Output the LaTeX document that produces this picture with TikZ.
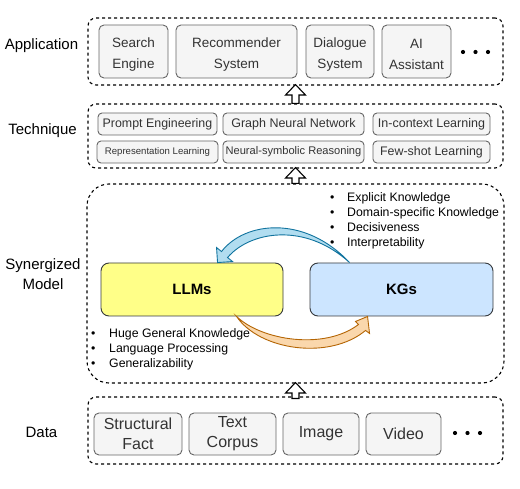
\documentclass[tikz,border=0pt]{standalone}
\usepackage{fontspec}
\setmainfont{Liberation Sans}
\usetikzlibrary{calc}
\definecolor{boxgray}{HTML}{F5F5F5}
\definecolor{boxline}{HTML}{666666}
\definecolor{boxtext}{HTML}{333333}
\definecolor{llmfill}{HTML}{FFFF88}
\definecolor{kgfill}{HTML}{CCE5FF}
\definecolor{mainline}{HTML}{36393D}
\definecolor{bluefill}{HTML}{B1DDF0}
\definecolor{blueline}{HTML}{10739E}
\definecolor{orangefill}{HTML}{FAD7AC}
\definecolor{orangeline}{HTML}{B46504}
\newcommand\myfs[2]{\fontsize{#1}{#2}\selectfont}
\newcommand\topstrut{\rule{0pt}{15.5pt}}
\newcommand\hollowup[2]{%
  \draw[hollow] ($(#1)+(-3.5,0)$) -- ($(#2)+(-3.5,10.5)$) -- ($(#2)+(-10,10.5)$) -- (#2)
    -- ($(#2)+(10,10.5)$) -- ($(#2)+(3.5,10.5)$) -- ($(#1)+(3.5,0)$) -- cycle;}
\begin{document}
\begin{tikzpicture}[x=1pt,y=-1pt,
  outerbox/.style={draw=black, dash pattern=on 3pt off 3pt, line width=1.1pt, rounded corners=8pt, inner sep=0pt},
  inbox/.style={draw=boxline, fill=boxgray, rounded corners=5pt, text=boxtext, align=center, inner sep=0pt, line width=0.9pt},
  tbox/.style={inbox, minimum height=22pt, rounded corners=4pt},
  lbl/.style={font=\myfs{15}{20}, align=center, inner sep=0pt},
  mainbox/.style={draw=mainline, rounded corners=8pt, minimum height=53pt, line width=0.9pt, font=\bfseries\myfs{15}{18}},
  bullets/.style={font=\myfs{12.3}{15}, align=left, inner sep=0pt, anchor=west},
  hollow/.style={draw=black, fill=white, line width=1.1pt, line join=miter},
  dotfill/.style={fill=black}
]
\useasboundingbox (0,0) rectangle (520,489);

% outer containers
\node[outerbox, minimum width=415pt, minimum height=67pt] (app) at (295.5,51.5) {};
\node[outerbox, minimum width=415pt, minimum height=64pt] (tech) at (295.5,136) {};
\node[outerbox, rounded corners=22pt, minimum width=417pt, minimum height=199pt] (syn) at (295.5,283.5) {};
\node[outerbox, minimum width=415pt, minimum height=67pt] (data) at (295.5,430.5) {};

% left labels
\node[lbl] (lapp) at (41.5,46) {Application};
\node[lbl] (ltech) at (42.5,131) {Technique};
\node[lbl] (lsyn) at (43,274) {Synergized\\Model};
\node[lbl] (ldata) at (41.5,432) {Data};

% application
\begin{scope}[every node/.append style={font=\myfs{13.5}{20.5}}]
\node[inbox, minimum width=69pt, minimum height=53pt] (se) at (133.5,51.5) {\topstrut Search\\Engine};
\node[inbox, minimum width=121pt, minimum height=53pt] (rs) at (236.5,51.5) {\topstrut Recommender\\System};
\node[inbox, minimum width=68pt, minimum height=53pt] (ds) at (340,51.5) {\topstrut Dialogue\\System};
\node[inbox, minimum width=69pt, minimum height=53pt] (ai) at (416.5,51.5) {\topstrut AI\\Assistant};
\end{scope}
\fill[dotfill] (463,52) circle[radius=2.1];
\fill[dotfill] (475.5,52) circle[radius=2.1];
\fill[dotfill] (488,52) circle[radius=2.1];

% technique
\node[tbox, minimum width=119pt, font=\myfs{12.4}{14}] (pe) at (157.5,124) {Prompt Engineering};
\node[tbox, minimum width=141pt, font=\myfs{12.5}{14}] (gnn) at (293.5,124) {Graph Neural Network};
\node[tbox, minimum width=117pt, font=\myfs{12.5}{14}] (icl) at (431.5,124) {In-context Learning};
\node[tbox, minimum width=121pt, font=\myfs{9.6}{12}] (rl) at (157.5,152) {Representation Learning};
\node[tbox, minimum width=141pt, font=\myfs{11.1}{13}] (nsr) at (293.5,152) {Neural-symbolic Reasoning};
\node[tbox, minimum width=117pt, font=\myfs{12.4}{14}] (fsl) at (431.5,152) {Few-shot Learning};

% synergized model
\node[mainbox, fill=llmfill, minimum width=182pt] (llm) at (192,289.5) {LLMs};
\node[mainbox, fill=kgfill, minimum width=183pt] (kg) at (401.5,289.5) {KGs};

\node[bullets] (kgp) at (330,220.5) {\makebox[17pt][l]{•}Explicit Knowledge\\\makebox[17pt][l]{•}Domain-specific Knowledge\\\makebox[17pt][l]{•}Decisiveness\\\makebox[17pt][l]{•}Interpretability};
\node[bullets] (llmp) at (91,349.3) {\makebox[18pt][l]{•}Huge General Knowledge\\\makebox[18pt][l]{•}Language Processing\\\makebox[18pt][l]{•}Generalizability};

% KGs -> LLMs (blue curved arrow)
\coordinate (bt) at ($(kg.north west)+(40,0)$);
\coordinate (bh) at ($(llm.north west)+(117,0)$);
\draw[draw=blueline, fill=bluefill, line width=0.9pt, line join=miter]
  (bt) .. controls ($(bt)+(-45,-48)$) and ($(bh)+(27,-41)$) .. ($(bh)+(4,-11)$)
  -- ($(bh)+(-1,-15)$) -- (bh) -- ($(bh)+(15,-1)$) -- ($(bh)+(10,-5)$)
  .. controls ($(bh)+(32,-31)$) and ($(bt)+(-45,-41)$) .. (bt) -- cycle;

% LLMs -> KGs (orange curved arrow)
\coordinate (ot) at ($(llm.south west)+(136,0)$);
\coordinate (oh) at ($(kg.south west)+(58,0)$);
\draw[draw=orangeline, fill=orangefill, line width=0.9pt, line join=miter]
  (ot) .. controls ($(ot)+(23,34)$) and ($(oh)+(-38,44)$) .. ($(oh)+(-2,14)$)
  -- ($(oh)+(2,17)$) -- (oh) -- ($(oh)+(-12,5)$) -- ($(oh)+(-9,8)$)
  .. controls ($(oh)+(-43,34)$) and ($(ot)+(25,24)$) .. (ot) -- cycle;

% data
\begin{scope}[every node/.append style={font=\myfs{16}{20}}]
\node[inbox, minimum width=88pt, minimum height=42pt] (sf) at (138,434) {Structural\\Fact};
\node[inbox, minimum width=87pt, minimum height=42pt] (tc) at (232.5,434) {Text\\Corpus};
\node[inbox, minimum width=76pt, minimum height=42pt] (im) at (321,434) {Image};
\node[inbox, minimum width=75pt, minimum height=42pt] (vi) at (403.5,434) {Video};
\end{scope}
\fill[dotfill] (455,433) circle[radius=2.1];
\fill[dotfill] (467.5,433) circle[radius=2.1];
\fill[dotfill] (480,433) circle[radius=2.1];

% hollow block arrows between layers
\coordinate (a1b) at (tech.north);
\coordinate (a1t) at ($(app.south)+(0,-1)$);
\hollowup{a1b}{a1t}
\coordinate (a2b) at (syn.north);
\coordinate (a2t) at ($(tech.south)+(0,-1)$);
\hollowup{a2b}{a2t}
\coordinate (a3b) at ($(data.north)+(0,2)$);
\coordinate (a3t) at ($(syn.south)+(0,-1)$);
\hollowup{a3b}{a3t}
\end{tikzpicture}
\end{document}
